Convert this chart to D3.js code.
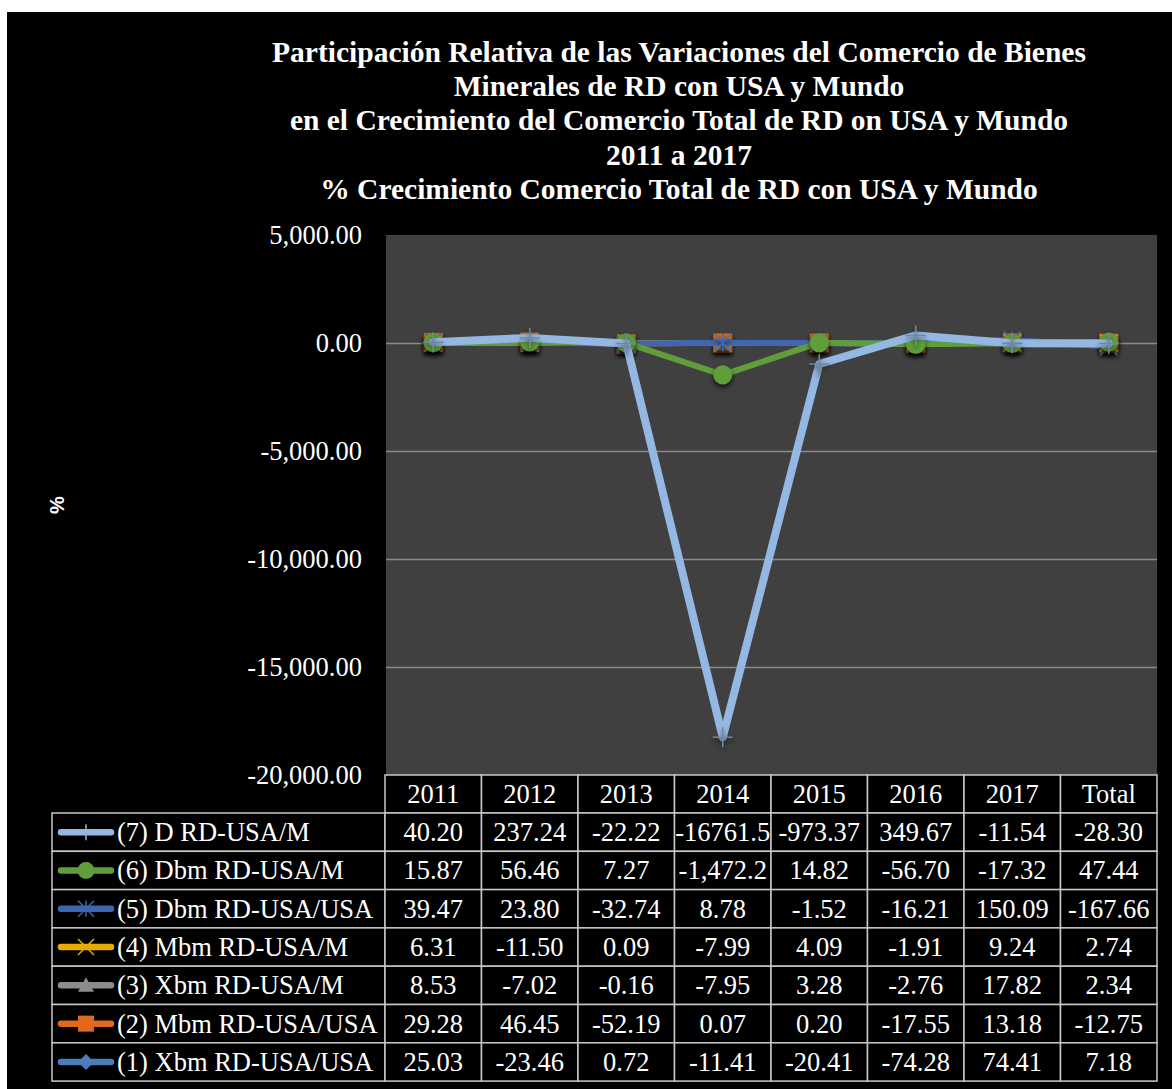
<!DOCTYPE html>
<html><head><meta charset="utf-8">
<script src="https://cdn.jsdelivr.net/npm/d3@7"></script>
<style>html,body{margin:0;padding:0;background:#fff;}svg{display:block;}</style>
</head><body>
<svg id="c" width="1172" height="1089"></svg>
<script>
const categories = ["2011","2012","2013","2014","2015","2016","2017","Total"];
const titleLines = [
  "Participación Relativa de las Variaciones del Comercio de Bienes",
  "Minerales de RD con USA y Mundo",
  "en el Crecimiento del Comercio Total de RD on USA y Mundo",
  "2011 a 2017",
  "% Crecimiento Comercio Total de RD con USA y Mundo"
];
const yTicks = [5000, 0, -5000, -10000, -15000, -20000];

const seriesNames = ["(7) D RD-USA/M","(6) Dbm RD-USA/M","(5) Dbm RD-USA/USA","(4) Mbm RD-USA/M","(3) Xbm RD-USA/M","(2) Mbm RD-USA/USA","(1) Xbm RD-USA/USA"];
const s7 = [40.20, 237.24, -22.22, -18250, -973.37, 349.67, -11.54, -28.30];
const s6 = [15.87, 56.46, 7.27, -1472.2, 14.82, -56.70, -17.32, 47.44];
const s5 = [39.47, 23.80, -32.74, 8.78, -1.52, -16.21, 150.09, -167.66];
const s4 = [6.31, -11.50, 0.09, -7.99, 4.09, -1.91, 9.24, 2.74];
const s3 = [8.53, -7.02, -0.16, -7.95, 3.28, -2.76, 17.82, 2.34];
const s2 = [29.28, 46.45, -52.19, 0.07, 0.20, -17.55, 13.18, -12.75];
const s1 = [25.03, -23.46, 0.72, -11.41, -20.41, -74.28, 74.41, 7.18];
const seriesValues = [s7, s6, s5, s4, s3, s2, s1];
// table cell texts as printed (some cells are clipped in the original)
const t7 = ["40.20","237.24","-22.22","-16761.5","-973.37","349.67","-11.54","-28.30"];
const t6 = ["15.87","56.46","7.27","-1,472.2","14.82","-56.70","-17.32","47.44"];
const colors = ["#95b8e3","#5f9e3a","#3f66b0","#e6ac00","#8c8c8c","#e0691e","#4a7ebb"];
const markers = ["plus","circle","star","x","triangle","square","diamond"];
const widths = [8,6,6,5,5,5,5];

const loc = d3.formatLocale({decimal:".", thousands:",", grouping:[3], currency:["",""], minus:"-"});
const fmtAxis = loc.format(",.2f");
const fmtCell = loc.format(".2f");

const svg = d3.select("#c");
const defs = svg.append("defs");
const f = defs.append("filter").attr("id","sh").attr("x","-50%").attr("y","-50%").attr("width","200%").attr("height","200%");
f.append("feDropShadow").attr("dx",0).attr("dy",3).attr("stdDeviation",2.5).attr("flood-color","#000").attr("flood-opacity",0.75);

svg.append("rect").attr("x",7).attr("y",12).attr("width",1165).attr("height",1077).attr("fill","#000");

const serif = "'Liberation Serif','Times New Roman',serif";
const fs = 26.5;
const L = 385, R = 1157, T = 235, B = 775;
const x = d3.scaleBand().domain(categories).range([L,R]);
const y = d3.scaleLinear().domain([-20000,5000]).range([B,T]);

// title
svg.append("g").selectAll("text").data(titleLines).join("text")
  .attr("x",679).attr("y",(d,i)=>62+i*34.2).attr("text-anchor","middle")
  .attr("font-family",serif).attr("font-weight","bold").attr("font-size",29.5).attr("fill","#fff").text(d=>d);

// plot area
svg.append("rect").attr("x",L).attr("y",T).attr("width",R-L).attr("height",B-T).attr("fill","#404040");
svg.append("g").selectAll("line").data(yTicks.slice(1,5)).join("line")
  .attr("x1",L).attr("x2",R).attr("y1",d=>Math.round(y(d))+0.5).attr("y2",d=>Math.round(y(d))+0.5)
  .attr("stroke","#8a8a8a").attr("stroke-width",1.3);

// y axis
const yAxis = svg.append("g").attr("transform",`translate(${L},0)`)
  .call(d3.axisLeft(y).tickValues(yTicks).tickSize(0).tickPadding(23).tickFormat(fmtAxis));
yAxis.select(".domain").attr("stroke","#000");
yAxis.selectAll("text").attr("font-family",serif).attr("font-size",fs).attr("fill","#fff");

svg.append("text").attr("transform","translate(64,505) rotate(-90)").attr("text-anchor","middle")
  .attr("font-family","'Liberation Sans',Arial,sans-serif").attr("font-weight","bold").attr("font-size",20).attr("fill","#fff").text("%");

// markers
function markerPath(type, s){
  const h = s/2;
  switch(type){
    case "square": return `M${-h},${-h}H${h}V${h}H${-h}Z`;
    case "diamond": return `M0,${-h}L${h},0L0,${h}L${-h},0Z`;
    case "triangle": return `M0,${-h}L${h},${h*0.8}L${-h},${h*0.8}Z`;
    case "x": return `M${-h},${-h}L${h},${h}M${h},${-h}L${-h},${h}`;
    case "plus": return `M${-h},0H${h}M0,${-h}V${h}`;
    case "star": return `M${-h},${-h}L${h},${h}M${h},${-h}L${-h},${h}M0,${-h}V${h}`;
  }
}
const line = d3.line().x((d,i)=>x(categories[i])+x.bandwidth()/2).y(d=>y(d));
const order = [6,5,4,3,2,1,0];
const plotG = svg.append("g");
order.forEach(k=>{
  const g = plotG.append("g");
  g.append("path").datum(seriesValues[k]).attr("d",line).attr("fill","none")
   .attr("stroke",colors[k]).attr("stroke-width",widths[k]).attr("stroke-linejoin","round").attr("stroke-linecap","round");
  const mg = g.append("g").attr("filter","url(#sh)");
  seriesValues[k].forEach((v,i)=>{
    const cx = x(categories[i])+x.bandwidth()/2, cy = y(v);
    const t = markers[k];
    if(t==="circle"){
      mg.append("circle").attr("cx",cx).attr("cy",cy).attr("r",9.5).attr("fill",colors[k]);
    } else if(t==="x"||t==="plus"||t==="star"){
      mg.append("path").attr("d",markerPath(t, t==="plus"?20:17)).attr("transform",`translate(${cx},${cy})`)
        .attr("fill","none").attr("stroke", t==="plus"?"#6f85a3":colors[k]).attr("stroke-width",1.5);
    } else {
      const s = t==="square"?18:t==="diamond"?17:16;
      mg.append("path").attr("d",markerPath(t,s)).attr("transform",`translate(${cx},${cy})`)
        .attr("fill",colors[k]).attr("stroke",colors[k]).attr("stroke-width",1);
    }
  });
});

// data table
const rowTop = 813, rowH = 38.3, legL = 52;
const tg = svg.append("g");
const borderC = "#c8c8c8";
categories.forEach((c,i)=>{
  tg.append("rect").attr("x",x(c)).attr("y",B).attr("width",x.bandwidth()).attr("height",rowTop-B)
    .attr("fill","#000").attr("stroke",borderC).attr("stroke-width",1.5);
  tg.append("text").attr("x",x(c)+x.bandwidth()/2).attr("y",(B+rowTop)/2+9).attr("text-anchor","middle")
    .attr("font-family",serif).attr("font-size",fs).attr("fill","#fff").text(c);
});
const cellText = (k,i)=> k===0 ? t7[i] : k===1 ? t6[i] : fmtCell(seriesValues[k][i]);
seriesNames.forEach((name,k)=>{
  const ty = rowTop + k*rowH;
  tg.append("rect").attr("x",legL).attr("y",ty).attr("width",L-legL).attr("height",rowH)
    .attr("fill","#000").attr("stroke",borderC).attr("stroke-width",1.5);
  const cy = ty+rowH/2;
  tg.append("line").attr("x1",61).attr("x2",111).attr("y1",cy).attr("y2",cy)
    .attr("stroke",colors[k]).attr("stroke-width",6.5).attr("stroke-linecap","round");
  const t = markers[k];
  if(t==="circle") tg.append("circle").attr("cx",86).attr("cy",cy).attr("r",8.5).attr("fill",colors[k]);
  else if(t==="x"||t==="plus"||t==="star")
    tg.append("path").attr("d",markerPath(t,16)).attr("transform",`translate(86,${cy})`).attr("fill","none")
      .attr("stroke",colors[k]).attr("stroke-width",1.5);
  else tg.append("path").attr("d",markerPath(t,16)).attr("transform",`translate(86,${cy})`).attr("fill",colors[k]);
  tg.append("text").attr("x",117).attr("y",cy+9).attr("font-family",serif).attr("font-size",fs).attr("fill","#fff").text(name);
  categories.forEach((c,i)=>{
    tg.append("rect").attr("x",x(c)).attr("y",ty).attr("width",x.bandwidth()).attr("height",rowH)
      .attr("fill","#000").attr("stroke",borderC).attr("stroke-width",1.5);
    tg.append("text").attr("x",x(c)+x.bandwidth()/2).attr("y",cy+9).attr("text-anchor","middle")
      .attr("font-family",serif).attr("font-size",fs).attr("fill","#fff").text(cellText(k,i));
  });
});
</script>
</body></html>
